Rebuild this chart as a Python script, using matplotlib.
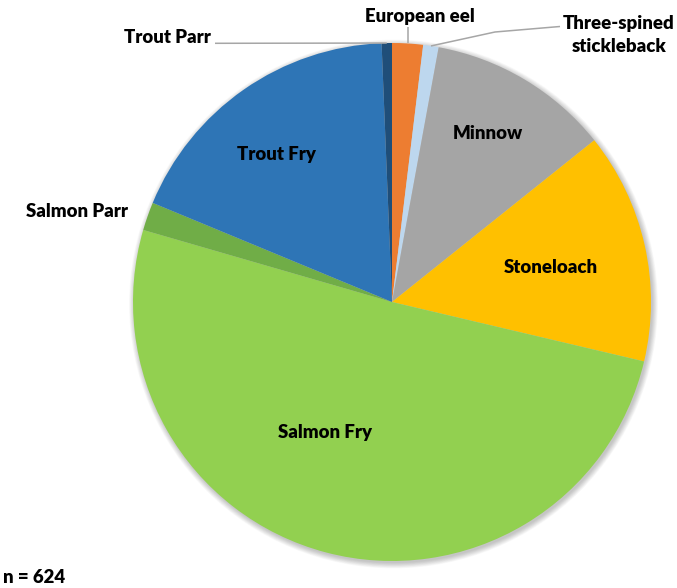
import numpy as np
import matplotlib
matplotlib.use("Agg")
import matplotlib.pyplot as plt
from matplotlib.patches import Circle

# Fish caught by species / life stage (n = 624)
species = ["European eel", "Three-spined\nstickleback", "Minnow", "Stoneloach",
           "Salmon Fry", "Salmon Parr", "Trout Fry", "Trout Parr"]
counts = [12, 6, 71, 90, 317, 11, 113, 4]
colors = ["#ED7D31", "#BDD7EE", "#A5A5A5", "#FFC000",
          "#92D050", "#70AD47", "#2E75B6", "#1F4E79"]
total_label = "n = 624"

W, H = 677, 588
fig = plt.figure(figsize=(W / 100, H / 100), dpi=100)
ax = fig.add_axes([0, 0, 1, 1])

cx, cy, R = 392, H - 302, 259

# soft drop shadow behind the pie
for i in range(10):
    ax.add_patch(Circle((cx + 1.5, cy - 2.0), R + 0.6 * i, color="black",
                        alpha=0.022, lw=0, zorder=0))

wedges, _ = ax.pie(counts, colors=colors, startangle=90, counterclock=False,
                   radius=R, center=(cx, cy), frame=True,
                   wedgeprops=dict(linewidth=0, edgecolor="none"))
for w in wedges:
    w.set_zorder(2)
ax.set_xlim(0, W)
ax.set_ylim(0, H)
ax.set_aspect("equal")
ax.axis("off")

font = dict(family="Lato", weight=800, fontsize=13.4, color="black")


def py(y):
    return H - y


def edge_point(w, r=R):
    a = np.deg2rad((w.theta1 + w.theta2) / 2)
    return cx + r * np.cos(a), cy + r * np.sin(a)


# labels inside the larger slices
inside = {"Trout Fry": (276, 160), "Minnow": (488, 139.3),
          "Stoneloach": (551, 273.3), "Salmon Fry": (325, 438)}
for name, (x, y) in inside.items():
    ax.text(x, py(y), name, ha="center", va="baseline", zorder=5, **font)

# labels outside the small slices
ax.text(77, py(216.7), "Salmon Parr", ha="center", va="baseline", **font)
ax.text(167.5, py(43.3), "Trout Parr", ha="center", va="baseline", **font)
ax.text(419.5, py(21.7), "European eel", ha="center", va="baseline", **font)
ax.text(619, py(29), species[1].split("\n")[0], ha="center", va="baseline", **font)
ax.text(619, py(52.5), species[1].split("\n")[1], ha="center", va="baseline", **font)
ax.text(3.3, py(583.3), total_label, ha="left", va="baseline", **font)

# leader lines
lc = dict(color="#A6A6A6", lw=1.1, zorder=4, solid_capstyle="butt")
ex, ey = edge_point(wedges[0])
ax.plot([ex, ex], [py(27), ey], **lc)
sx, sy = edge_point(wedges[1])
ax.plot([sx, 495, 560], [sy, py(32), py(26.5)], **lc)
tx, ty = edge_point(wedges[7])
ax.plot([215, tx], [py(43.3), ty], **lc)

fig.savefig("out.png", dpi=100)
